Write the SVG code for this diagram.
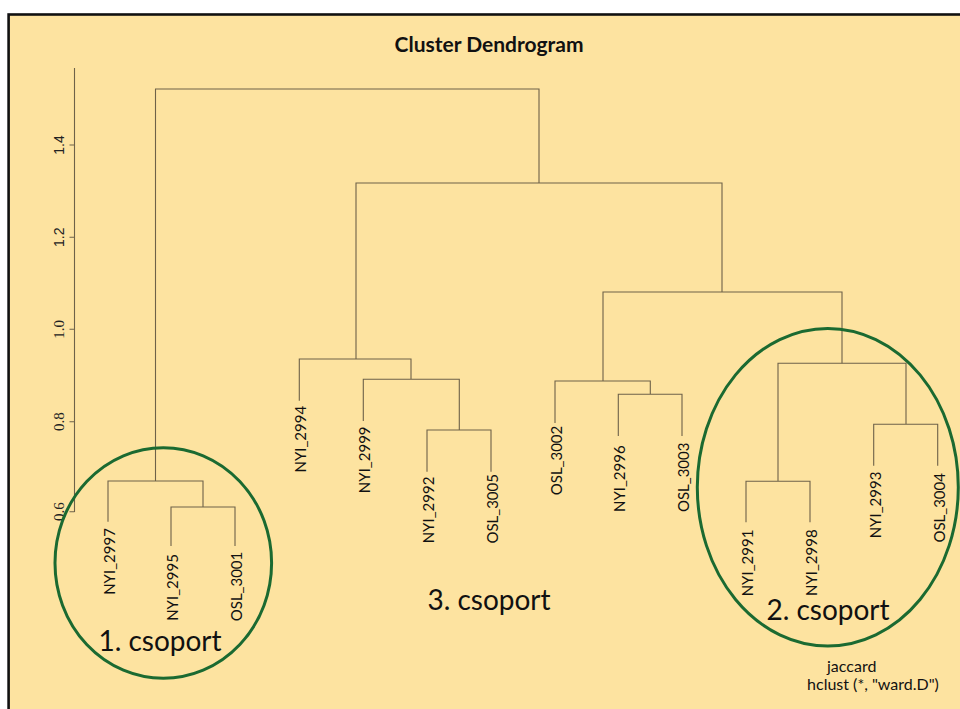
<svg xmlns="http://www.w3.org/2000/svg" width="960" height="709" viewBox="0 0 960 709">
<style>
.tree{fill:none;stroke:#6e6249;stroke-width:1.1}
.leaf{font-family:Lato,"Open Sans",sans-serif;font-size:15px;fill:#111;text-anchor:middle}
.grp{font-family:Lato,"Open Sans",sans-serif;font-size:28px;fill:#111;text-anchor:middle}
.sub{font-family:Lato,"Open Sans",sans-serif;font-size:16px;fill:#111;text-anchor:middle}
.ts{font-family:"Liberation Sans",Arial,sans-serif;font-size:14px;fill:#222;text-anchor:middle}
.tr{font-family:"Liberation Serif","Times New Roman",serif;font-size:15px;fill:#222;text-anchor:middle}
.ell{fill:none;stroke:#1b6a31;stroke-width:3}
</style>
<rect x="0" y="0" width="960" height="709" fill="#ffffff"/>
<rect x="8.6" y="14.5" width="1000" height="750" fill="#fde3a0" stroke="#111" stroke-width="2.6"/>
<text x="489" y="52" font-family="Lato,'Open Sans',sans-serif" font-size="21" font-weight="bold" fill="#111" text-anchor="middle">Cluster Dendrogram</text>
<g id="axis">
<path class="tree" d="M74.5,68 V512 M69.5,145 H74.5 M69.5,237.3 H74.5 M69.5,329.3 H74.5 M69.5,421.7 H74.5 M69.5,511.7 H74.5"/>
<text class="ts" transform="translate(63.5,145) rotate(-90)">1.4</text>
<text class="ts" transform="translate(63.5,237.3) rotate(-90)">1.2</text>
<text class="tr" transform="translate(63.5,329.3) rotate(-90)">1.0</text>
<text class="tr" transform="translate(63.5,421.7) rotate(-90)">0.8</text>
<text class="tr" transform="translate(63.5,511.7) rotate(-90)">0.6</text>
</g>
<g id="connectors">
<path class="tree" d="M155.5,481 V89 H539 V183"/>
<path class="tree" d="M108,521.7 V481 H203 V507 M171,546 V507 H235 V546"/>
<path class="tree" d="M356,359 V183 H722 V292"/>
<path class="tree" d="M299.3,400.7 V359 H411 V379.3 M363.3,421 V379.3 H459.3 V430 M427,471.7 V430 H491 V471.7"/>
<path class="tree" d="M603,381 V292 H842 V363.3"/>
<path class="tree" d="M555,423 V381 H650.3 V394.3 M618.3,436 V394.3 H682 V436"/>
<path class="tree" d="M778,481.3 V363.3 H906 V424.3 M746,522.3 V481.3 H810 V522.3 M873.7,465.7 V424.3 H937.7 V465.7"/>
</g>
<g id="leaf-NYI_2997"><text class="leaf" transform="translate(115,561.5) rotate(-90)">NYI_2997</text></g>
<g id="leaf-NYI_2995"><text class="leaf" transform="translate(178,587.5) rotate(-90)">NYI_2995</text></g>
<g id="leaf-OSL_3001"><text class="leaf" transform="translate(242,586.5) rotate(-90)">OSL_3001</text></g>
<g id="leaf-NYI_2994"><text class="leaf" transform="translate(306.3,439.2) rotate(-90)">NYI_2994</text></g>
<g id="leaf-NYI_2999"><text class="leaf" transform="translate(370.3,459.8) rotate(-90)">NYI_2999</text></g>
<g id="leaf-NYI_2992"><text class="leaf" transform="translate(434,510) rotate(-90)">NYI_2992</text></g>
<g id="leaf-OSL_3005"><text class="leaf" transform="translate(498,508.8) rotate(-90)">OSL_3005</text></g>
<g id="leaf-OSL_3002"><text class="leaf" transform="translate(562,460.5) rotate(-90)">OSL_3002</text></g>
<g id="leaf-NYI_2996"><text class="leaf" transform="translate(625.3,478.7) rotate(-90)">NYI_2996</text></g>
<g id="leaf-OSL_3003"><text class="leaf" transform="translate(689,477.3) rotate(-90)">OSL_3003</text></g>
<g id="leaf-NYI_2991"><text class="leaf" transform="translate(753,563) rotate(-90)">NYI_2991</text></g>
<g id="leaf-NYI_2998"><text class="leaf" transform="translate(817,562.7) rotate(-90)">NYI_2998</text></g>
<g id="leaf-NYI_2993"><text class="leaf" transform="translate(880.7,505) rotate(-90)">NYI_2993</text></g>
<g id="leaf-OSL_3004"><text class="leaf" transform="translate(944.7,507.8) rotate(-90)">OSL_3004</text></g>
<g id="group-1">
<ellipse class="ell" cx="163.3" cy="563" rx="108.3" ry="115.3"/>
<text class="grp" x="160" y="650.7">1. csoport</text>
</g>
<g id="group-2">
<ellipse class="ell" cx="827.8" cy="487.2" rx="130.5" ry="158.8"/>
<text class="grp" x="828" y="620">2. csoport</text>
</g>
<g id="group-3">
<text class="grp" x="489" y="610">3. csoport</text>
</g>
<text class="sub" x="851.7" y="671.7">jaccard</text>
<text class="sub" x="873" y="690">hclust (*, "ward.D")</text>
</svg>
